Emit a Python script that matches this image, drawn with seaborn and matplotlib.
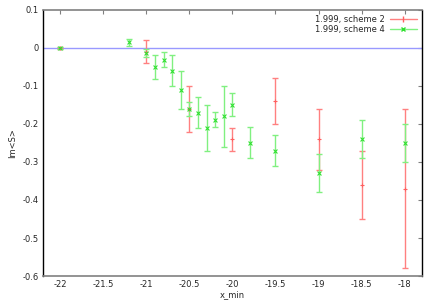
import matplotlib
matplotlib.use("Agg")
import matplotlib.pyplot as plt
import seaborn as sns
import pandas as pd
import numpy as np
from matplotlib.lines import Line2D

red_x = [-22, -21, -20.5, -20, -19.5, -19, -18.5, -18]
red_y = [0.0, -0.01, -0.16, -0.24, -0.14, -0.24, -0.36, -0.37]
red_err = [0.003, 0.03, 0.06, 0.03, 0.06, 0.08, 0.09, 0.21]

green_x = [-22, -21.2, -21, -20.9, -20.8, -20.7, -20.6, -20.5, -20.4, -20.3,
           -20.2, -20.1, -20, -19.8, -19.5, -19, -18.5, -18]
green_y = [0.0, 0.015, -0.013, -0.05, -0.031, -0.06, -0.11, -0.161, -0.17, -0.21,
           -0.189, -0.18, -0.149, -0.249, -0.27, -0.33, -0.24, -0.25]
green_err = [0.003, 0.009, 0.01, 0.031, 0.02, 0.041, 0.05, 0.019, 0.04, 0.06,
             0.02, 0.08, 0.03, 0.04, 0.04, 0.05, 0.05, 0.05]

labels = ["1.999, scheme 2", "1.999, scheme 4"]
xticks = [-22, -21.5, -21, -20.5, -20, -19.5, -19, -18.5, -18]
yticks = [0.1, 0, -0.1, -0.2, -0.3, -0.4, -0.5, -0.6]

sns.set_style("white")
plt.rcParams['font.family'] = ['DejaVu Sans']

fig = plt.figure(figsize=(4.3, 3.01), dpi=100)
ax = fig.add_axes([0.1, 0.083, 0.881, 0.884])

ax.axhline(0, color="#9999ff", lw=1.0, zorder=1)

red_col = "#ff8080"
green_col = "#80f080"

df_r = pd.DataFrame({"x": red_x, "y": red_y})
df_g = pd.DataFrame({"x": green_x, "y": green_y})

ax.errorbar(red_x, red_y, yerr=red_err, fmt="none", ecolor=red_col,
            elinewidth=1.0, capsize=2.5, capthick=1.0, zorder=2)
ax.errorbar(green_x, green_y, yerr=green_err, fmt="none", ecolor=green_col,
            elinewidth=1.0, capsize=2.5, capthick=1.0, zorder=3)
sns.scatterplot(data=df_r, x="x", y="y", marker="+", color="#ff6060", s=10,
                linewidth=0.8, ax=ax, zorder=4, legend=False)
sns.scatterplot(data=df_g, x="x", y="y", marker="x", color="#30e030", s=8,
                linewidth=0.8, ax=ax, zorder=5, legend=False)

h1 = Line2D([], [], color=red_col, marker="|", markersize=4, lw=1.0, markeredgecolor="#ff6060")
h2 = Line2D([], [], color=green_col, marker="x", markersize=2.5, lw=1.0, markeredgecolor="#30e030")
ax.legend([h1, h2], labels, loc="upper right", frameon=False, markerfirst=False,
          fontsize=6, handlelength=3.2, borderaxespad=0.2, labelspacing=0.1,
          handletextpad=0.6)

ax.set_xlim(-22.2, -17.8)
ax.set_ylim(-0.6, 0.1)
ax.set_xticks(xticks)
ax.set_xticklabels([f"{t:g}" for t in xticks])
ax.set_yticks(yticks)
ax.set_yticklabels([f"{t:g}" for t in yticks])
ax.tick_params(axis="both", direction="in", length=3, width=0.8, color="#808080",
               labelsize=6, top=True, right=True, pad=3)
ax.set_xlabel("x_min", fontsize=6, labelpad=1)
ax.set_ylabel("Im<S>", fontsize=6, labelpad=4)

for s in ["left", "right"]:
    ax.spines[s].set_color("black")
    ax.spines[s].set_linewidth(1.0)
for s in ["top", "bottom"]:
    ax.spines[s].set_color("#808080")
    ax.spines[s].set_linewidth(1.2)

fig.savefig("out.png", dpi=100)
